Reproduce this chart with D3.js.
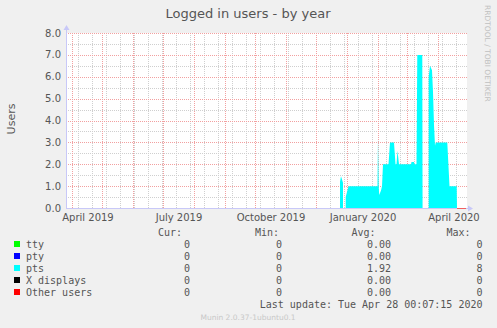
<!DOCTYPE html>
<html><head><meta charset="utf-8">
<script src="https://cdn.jsdelivr.net/npm/d3@7"></script>
<style>
html,body{margin:0;padding:0;background:#f0f0f0;}
svg{display:block;}
</style></head>
<body>
<script>
// ---- data ----
const title = "Logged in users - by year";
const yLabel = "Users";
const yTicks = [0,1,2,3,4,5,6,7,8];
const xLabelMonths = ["2019-04-01","2019-07-01","2019-10-01","2020-01-01","2020-04-01"];
const xLabelTexts = ["April 2019","July 2019","October 2019","January 2020","April 2020"];
const timeStart = "2019-03-26T00:00";
const timeEnd = "2020-04-29T00:00";
const ptsDates = [
 "2019-12-25T00:00","2019-12-25T00:00","2019-12-26T00:00","2019-12-28T00:00","2019-12-28T00:00",
 "2019-12-30T17:00","2019-12-30T17:00","2020-01-02T12:00","2020-01-31T12:00","2020-02-01T00:00",
 "2020-02-01T17:00","2020-02-02T05:00","2020-02-04T00:00","2020-02-05T00:00","2020-02-06T00:00",
 "2020-02-11T12:00","2020-02-13T00:00","2020-02-17T00:00","2020-02-18T12:00","2020-02-19T12:00",
 "2020-02-20T12:00","2020-02-21T12:00","2020-02-22T00:00","2020-03-05T00:00","2020-03-05T12:00",
 "2020-03-08T00:00","2020-03-08T12:00","2020-03-10T12:00","2020-03-11T07:00","2020-03-16T07:00",
 "2020-03-16T14:00","2020-03-22T17:00","2020-03-22T17:00","2020-03-24T00:00","2020-03-26T00:00",
 "2020-03-27T00:00","2020-03-28T00:00","2020-03-29T00:00","2020-03-29T17:00","2020-04-10T07:00",
 "2020-04-12T12:00","2020-04-19T17:00","2020-04-20T00:00"];
const ptsValues = [
 0,1.2,1.45,1.15,0,
 0,0.5,1.0,1.0,3.2,
 1.0,0.6,0.8,1.0,2.0,
 2.0,3.0,3.0,2.0,2.0,
 2.62,2.2,2.0,2.0,2.1,
 2.1,2.0,2.0,7.0,7.0,
 0,0,6.0,6.5,6.3,
 5.3,3.8,2.85,3.0,3.0,
 1.0,1.0,0];
const knownStart = "2019-12-25T00:00";
const knownEnd = "2020-04-28T00:00";
const legendNames = ["tty","pty","pts","X displays","Other users"];
const legendColors = ["#00ff00","#0000ff","#00ffff","#000000","#ff0000"];
const legendCur = ["0","0","0","0","0"];
const legendMin = ["0","0","0","0","0"];
const legendAvg = ["0.00","0.00","1.92","0.00","0.00"];
const legendMax = ["0","0","8","0","0"];
const lastUpdate = "Last update: Tue Apr 28 00:07:15 2020";
const footer = "Munin 2.0.37-1ubuntu0.1";
const sideText = "RRDTOOL / TOBI OETIKER";

// ---- drawing ----
const W = 497, H = 328;
const L = 66, R = 466, T = 33, B = 208;
const parse = s => new Date(s + "Z");
const svg = d3.select("body").append("svg").attr("width", W).attr("height", H);
svg.append("rect").attr("width", W).attr("height", H).attr("fill", "#f0f0f0");

const x = d3.scaleUtc().domain([parse(timeStart), parse(timeEnd)]).range([L, R]);
const y = d3.scaleLinear().domain([0, 8]).range([B, T]);

svg.append("rect").attr("x", L).attr("y", T).attr("width", R - L + 1).attr("height", B - T).attr("fill", "#ffffff");

const font = "DejaVu Sans, sans-serif";
const mono = "DejaVu Sans Mono, monospace";

// minor vertical grid: every 14 days
const minorV = d3.utcDay.every(14).range(parse("2019-04-07T00:00"), parse(timeEnd));
const minorV2 = d3.range(0, 60).map(i => d3.utcDay.offset(parse("2019-04-07T00:00"), i*14)).filter(d => d < parse(timeEnd));
const g = svg.append("g");
g.selectAll("line.mv").data(minorV2).enter().append("line")
  .attr("x1", d => Math.round(x(d)) + 0.5).attr("x2", d => Math.round(x(d)) + 0.5)
  .attr("y1", T).attr("y2", B)
  .attr("stroke", "#cfcfcf").attr("stroke-dasharray", "1,1");
// minor horizontal grid at 0.5 steps
const minorH = d3.range(0.5, 8, 1);
g.selectAll("line.mh").data(minorH).enter().append("line")
  .attr("x1", L).attr("x2", R + 2)
  .attr("y1", d => Math.round(y(d)) + 0.5).attr("y2", d => Math.round(y(d)) + 0.5)
  .attr("stroke", "#cfcfcf").attr("stroke-dasharray", "1,1");
// major vertical grid: month starts
const months = d3.utcMonth.range(parse(timeStart), parse(timeEnd));
g.selectAll("line.Mv").data(months).enter().append("line")
  .attr("x1", d => Math.round(x(d)) + 0.5).attr("x2", d => Math.round(x(d)) + 0.5)
  .attr("y1", T).attr("y2", B)
  .attr("stroke", "#f2a0a0").attr("stroke-dasharray", "1,1");
g.selectAll("line.Mh").data(yTicks).enter().append("line")
  .attr("x1", L).attr("x2", R + 2)
  .attr("y1", d => Math.round(y(d)) + 0.5).attr("y2", d => Math.round(y(d)) + 0.5)
  .attr("stroke", "#f2a0a0").attr("stroke-dasharray", "1,1");

// other users line (zero) over known range
svg.append("line")
  .attr("x1", x(parse(knownStart))).attr("x2", x(parse(knownEnd)) + 1)
  .attr("y1", y(0) + 0.5).attr("y2", y(0) + 0.5)
  .attr("stroke", "#f06060").attr("stroke-width", 1);

// pts area
const ptsData = ptsDates.map((d, i) => ({date: parse(d), v: ptsValues[i]}));
const area = d3.area().x(d => x(d.date)).y0(y(0) + 1).y1(d => y(d.v));
svg.append("path").datum(ptsData).attr("d", area).attr("fill", "#00ffff");

// axes lines
const axisColor = "#c8c8f8";
svg.append("line").attr("x1", L + 0.5).attr("x2", L + 0.5).attr("y1", T - 3).attr("y2", B + 1)
  .attr("stroke", axisColor);
svg.append("path").attr("d", `M${L - 2.5},${T - 3} L${L + 3.5},${T - 3} L${L + 0.5},${T - 8} Z`).attr("fill", axisColor);
svg.append("line").attr("x1", L).attr("x2", R + 3).attr("y1", B + 0.5).attr("y2", B + 0.5)
  .attr("stroke", axisColor);
svg.append("path").attr("d", `M${R + 2},${B - 2.5} L${R + 2},${B + 3.5} L${R + 7},${B + 0.5} Z`).attr("fill", axisColor);
// re-draw other-users line over axis where data known
svg.append("line")
  .attr("x1", x(parse(ptsDates[ptsDates.length - 1]))).attr("x2", x(parse(knownEnd)) + 1)
  .attr("y1", y(0) + 0.5).attr("y2", y(0) + 0.5)
  .attr("stroke", "#f06060");

// y tick labels
svg.selectAll("text.yt").data(yTicks).enter().append("text")
  .attr("x", 61).attr("y", d => y(d) + 3.5)
  .attr("text-anchor", "end").attr("font-family", font).attr("font-size", 10)
  .attr("fill", "#555").text(d => d.toFixed(1));

// x labels (centered mid-month)
svg.selectAll("text.xt").data(xLabelMonths).enter().append("text")
  .attr("x", d => x(d3.utcDay.offset(parse(d + "T00:00"), 16)))
  .attr("y", 221)
  .attr("text-anchor", "middle").attr("font-family", font).attr("font-size", 10)
  .attr("fill", "#555").text((d, i) => xLabelTexts[i]);

// title
svg.append("text").attr("x", 248).attr("y", 18).attr("text-anchor", "middle")
  .attr("font-family", font).attr("font-size", 13).attr("fill", "#555").text(title);
// y label
svg.append("text").attr("transform", "translate(15,119) rotate(-90)").attr("text-anchor", "middle")
  .attr("font-family", font).attr("font-size", 11).attr("fill", "#555").text(yLabel);
// side text
svg.append("text").attr("transform", "translate(485,5) rotate(90)").attr("text-anchor", "start")
  .attr("font-family", font).attr("font-size", 7.5).attr("fill", "#c0c0c0").text(sideText);

// legend
const hdrY = 236;
[["Cur:",158],["Min:",255],["Avg:",351.5],["Max:",446.5]].forEach(([t, xx]) => {
  svg.append("text").attr("x", xx).attr("y", hdrY).attr("font-family", mono).attr("font-size", 10)
    .attr("fill", "#555").text(t);
});
const cols = [[legendCur,190],[legendMin,282],[legendAvg,391],[legendMax,482.5]];
legendNames.forEach((n, i) => {
  const by = 248 + i * 12;
  svg.append("rect").attr("x", 14).attr("y", by - 7).attr("width", 6).attr("height", 6).attr("fill", legendColors[i]);
  svg.append("text").attr("x", 26).attr("y", by).attr("font-family", mono).attr("font-size", 10)
    .attr("fill", "#555").text(n);
  cols.forEach(([arr, xx]) => {
    svg.append("text").attr("x", xx).attr("y", by).attr("text-anchor", "end")
      .attr("font-family", mono).attr("font-size", 10).attr("fill", "#555").text(arr[i]);
  });
});
svg.append("text").attr("x", 482.5).attr("y", 308).attr("text-anchor", "end")
  .attr("font-family", mono).attr("font-size", 10).attr("fill", "#555").text(lastUpdate);
svg.append("text").attr("x", 248).attr("y", 320).attr("text-anchor", "middle")
  .attr("font-family", font).attr("font-size", 7.5).attr("fill", "#c8c8c8").text(footer);
</script>
</body></html>
